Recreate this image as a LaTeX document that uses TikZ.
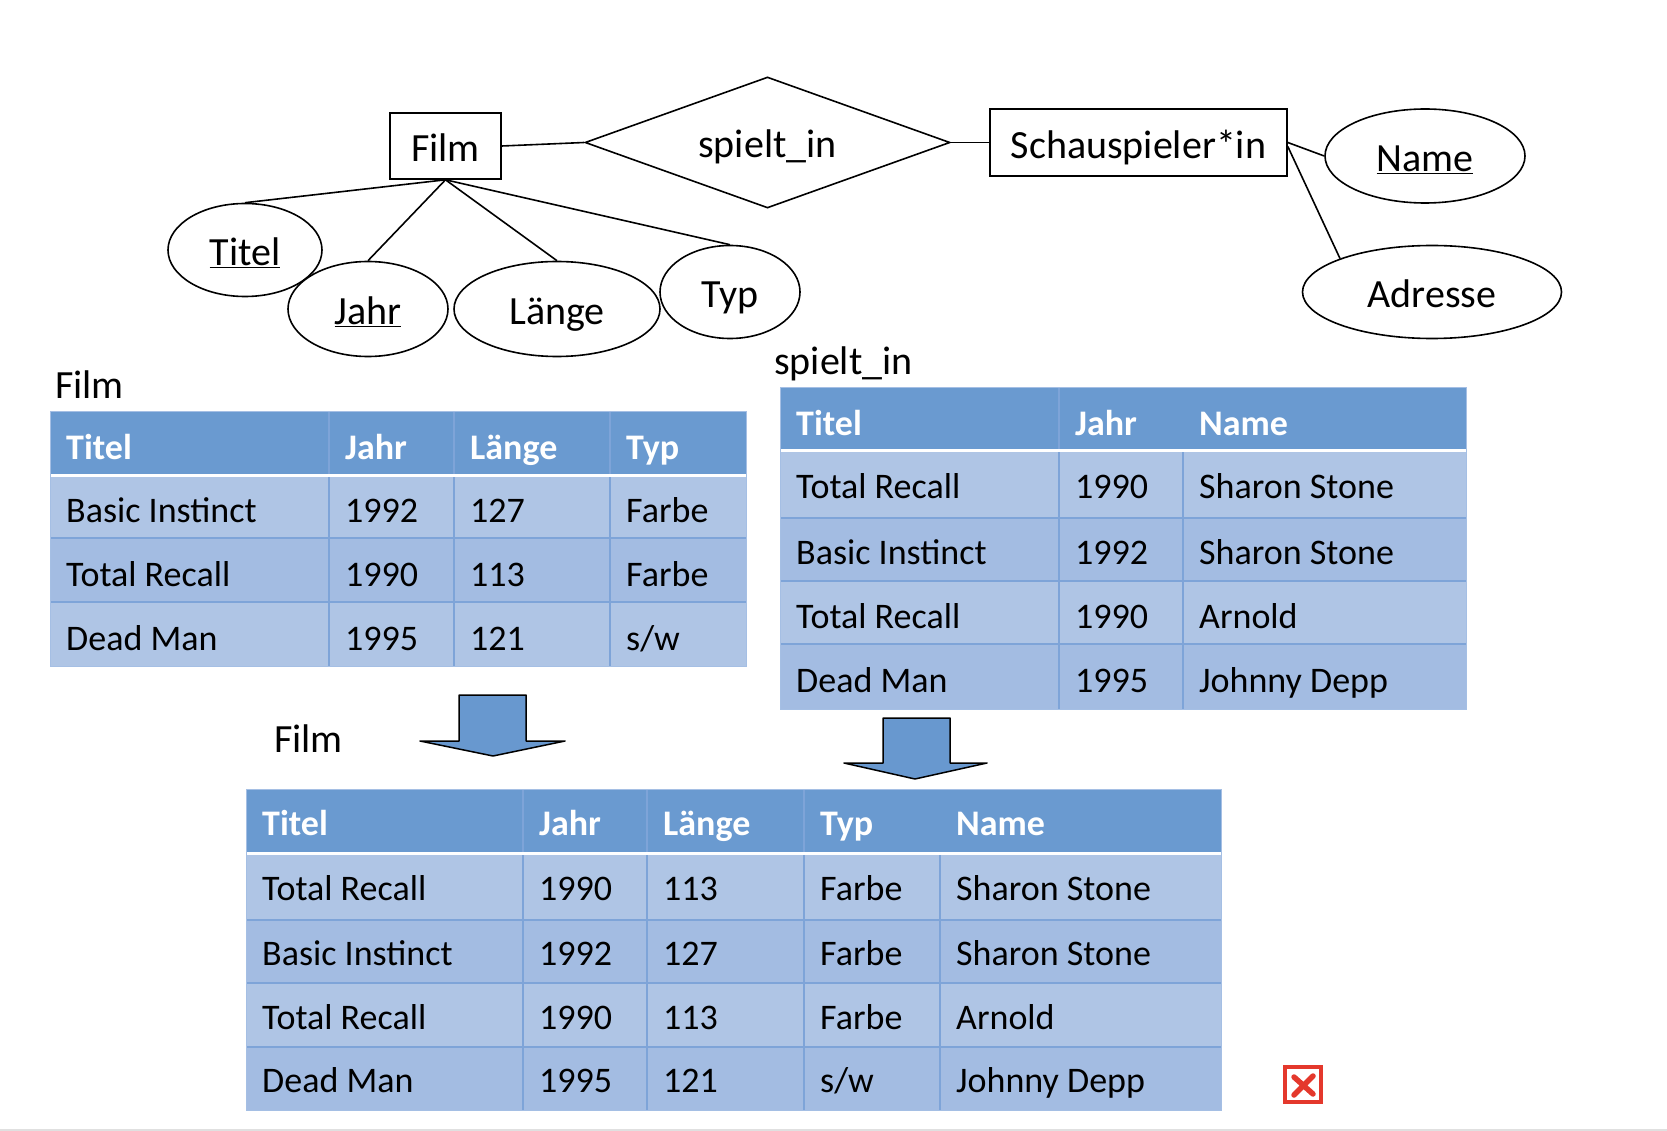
\documentclass[tikz,border=0pt]{standalone}
\usepackage{fontspec}
\setmainfont{Carlito}
\usetikzlibrary{shapes.geometric}

\definecolor{headblue}{RGB}{106,154,208}
\definecolor{rowlight}{RGB}{175,197,229}
\definecolor{rowdark}{RGB}{163,188,226}
\definecolor{lineblue}{RGB}{126,164,216}
\definecolor{arrowblue}{RGB}{104,152,207}
\definecolor{xred}{RGB}{228,56,44}

\newcommand{\erfont}{\fontsize{40}{48}\selectfont}
\newcommand{\cellfont}{\fontsize{36}{43}\selectfont}
\newcommand{\headfont}{\fontsize{36}{43}\selectfont\bfseries}

\begin{document}
\begin{tikzpicture}[x=1pt, y=-1pt,
	entity/.style={shape=rectangle, draw=black, line width=1.6pt, minimum height=66pt, inner sep=0pt, text height=32pt, text depth=0pt, font=\erfont},
	attr/.style={shape=ellipse, draw=black, fill=white, line width=1.6pt, inner sep=0pt, text height=32pt, text depth=0pt, font=\erfont},
	relship/.style={shape=diamond, draw=black, line width=1.6pt, aspect=2.8, inner sep=0pt, text height=31pt, text depth=0pt, font=\erfont},
	erline/.style={-, line width=1.6pt},
	tabname/.style={anchor=base west, inner sep=0pt, font=\erfont},
	cell/.style={anchor=base west, inner sep=0pt, font=\cellfont},
	headcell/.style={anchor=base west, inner sep=0pt, text=white, font=\headfont},
	rowline/.style={draw=lineblue, line width=1.4pt},
	blockarrow/.style={fill=arrowblue, draw=black, line width=1.5pt, line join=round}]
	
	\useasboundingbox (0,0) rectangle (1667,1131);
	
	% ER diagram
	\node[entity, minimum width=111pt] (film) at (445.5,146) {Film};
	\node[relship, minimum width=365pt, minimum height=131pt] (spielt) at (767.5,142.5) {spielt\_in};
	\node[entity, minimum width=297pt, minimum height=67pt] (schau) at (1138.5,142.5) {Schauspieler*in};
	\node[attr, minimum width=154pt, minimum height=93pt] (titel) at (245,250) {\underline{Titel}};
	\node[attr, minimum width=160pt, minimum height=95pt] (jahr) at (368,309) {\underline{Jahr}};
	\node[attr, minimum width=206pt, minimum height=95pt] (laenge) at (557,309) {Länge};
	\node[attr, minimum width=140pt, minimum height=93pt] (typ) at (730,292) {Typ};
	\node[attr, minimum width=200pt, minimum height=94pt] (name) at (1425,156) {\underline{Name}};
	\node[attr, minimum width=259pt, minimum height=93pt] (adresse) at (1432,292) {Adresse};
	
	\path[erline] (film.east) edge (spielt.west);
	\path[erline] (spielt.east) edge (schau.west);
	\path[erline] (film.south) edge (titel.north);
	\path[erline] (film.south) edge (jahr.north);
	\path[erline] (film.south) edge (laenge.north);
	\path[erline] (film.south) edge (typ.north);
	\path[erline] (schau.east) edge (name.west);
	\path[erline] ([yshift=-4pt]schau.east) edge (adresse.160);
	
	% Tabelle Film
	\node[tabname] (filmname) at (55,398) {Film};
	\fill[headblue] (50,411) rectangle (746,475);
	\fill[rowlight] (50,475) rectangle (746,538);
	\fill[rowdark] (50,538) rectangle (746,602);
	\fill[rowlight] (50,602) rectangle (746,666);
	\draw[rowline] (50,538) -- (746,538) (50,602) -- (746,602);
	\draw[rowline] (329,411) -- (329,666) (454,411) -- (454,666) (610,411) -- (610,666);
	\draw[white, line width=3pt] (50,475) -- (746,475);
	\draw[draw=lineblue!70, line width=1pt] (50,411) rectangle (746,666);
	
	\node[headcell] (fh1) at (66,459) {Titel};
	\node[headcell] (fh2) at (345,459) {Jahr};
	\node[headcell] (fh3) at (470,459) {Länge};
	\node[headcell] (fh4) at (626,459) {Typ};
	\node[cell] (f11) at (66,522) {Basic Instinct};
	\node[cell] (f12) at (345,522) {1992};
	\node[cell] (f13) at (470,522) {127};
	\node[cell] (f14) at (626,522) {Farbe};
	\node[cell] (f21) at (66,586) {Total Recall};
	\node[cell] (f22) at (345,586) {1990};
	\node[cell] (f23) at (470,586) {113};
	\node[cell] (f24) at (626,586) {Farbe};
	\node[cell] (f31) at (66,650) {Dead Man};
	\node[cell] (f32) at (345,650) {1995};
	\node[cell] (f33) at (470,650) {121};
	\node[cell] (f34) at (626,650) {s/w};
	
	% Tabelle spielt_in
	\node[tabname] (spieltname) at (774,374) {spielt\_in};
	\fill[headblue] (780,387) rectangle (1466,450);
	\fill[rowlight] (780,450) rectangle (1466,518);
	\fill[rowdark] (780,518) rectangle (1466,581);
	\fill[rowlight] (780,581) rectangle (1466,644);
	\fill[rowdark] (780,644) rectangle (1466,709);
	\draw[rowline] (780,518) -- (1466,518) (780,581) -- (1466,581) (780,644) -- (1466,644);
	\draw[rowline] (1059,387) -- (1059,709) (1183,450) -- (1183,709);
	\draw[white, line width=3pt] (780,450) -- (1466,450);
	\draw[draw=lineblue!70, line width=1pt] (780,387) rectangle (1466,709);
	
	\node[headcell] (sh1) at (796,435) {Titel};
	\node[headcell] (sh2) at (1075,435) {Jahr};
	\node[headcell] (sh3) at (1199,435) {Name};
	\node[cell] (s11) at (796,498) {Total Recall};
	\node[cell] (s12) at (1075,498) {1990};
	\node[cell] (s13) at (1199,498) {Sharon Stone};
	\node[cell] (s21) at (796,564) {Basic Instinct};
	\node[cell] (s22) at (1075,564) {1992};
	\node[cell] (s23) at (1199,564) {Sharon Stone};
	\node[cell] (s31) at (796,628) {Total Recall};
	\node[cell] (s32) at (1075,628) {1990};
	\node[cell] (s33) at (1199,628) {Arnold};
	\node[cell] (s41) at (796,692) {Dead Man};
	\node[cell] (s42) at (1075,692) {1995};
	\node[cell] (s43) at (1199,692) {Johnny Depp};
	
	% Pfeile
	\draw[blockarrow] (459,695) -- (526,695) -- (526,741) -- (565,741) -- (493,756) -- (420,741) -- (459,741) -- cycle;
	\draw[blockarrow] (883,718) -- (950,718) -- (950,763) -- (987,763) -- (915,779) -- (844,763) -- (883,763) -- cycle;
	\node[tabname] (joinname) at (274,752) {Film};
	
	% Tabelle Film (verbunden)
	\fill[headblue] (246,789) rectangle (1221,853);
	\fill[rowlight] (246,853) rectangle (1221,920);
	\fill[rowdark] (246,920) rectangle (1221,983);
	\fill[rowlight] (246,983) rectangle (1221,1047);
	\fill[rowdark] (246,1047) rectangle (1221,1110);
	\draw[rowline] (246,920) -- (1221,920) (246,983) -- (1221,983) (246,1047) -- (1221,1047);
	\draw[rowline] (523,789) -- (523,1110) (647,789) -- (647,1110) (804,789) -- (804,1110) (940,853) -- (940,1110);
	\draw[white, line width=3pt] (246,853) -- (1221,853);
	\draw[draw=lineblue!70, line width=1pt] (246,789) rectangle (1221,1110);
	
	\node[headcell] (bh1) at (262,835) {Titel};
	\node[headcell] (bh2) at (539,835) {Jahr};
	\node[headcell] (bh3) at (663,835) {Länge};
	\node[headcell] (bh4) at (820,835) {Typ};
	\node[headcell] (bh5) at (956,835) {Name};
	\node[cell] (b11) at (262,900) {Total Recall};
	\node[cell] (b12) at (539,900) {1990};
	\node[cell] (b13) at (663,900) {113};
	\node[cell] (b14) at (820,900) {Farbe};
	\node[cell] (b15) at (956,900) {Sharon Stone};
	\node[cell] (b21) at (262,965) {Basic Instinct};
	\node[cell] (b22) at (539,965) {1992};
	\node[cell] (b23) at (663,965) {127};
	\node[cell] (b24) at (820,965) {Farbe};
	\node[cell] (b25) at (956,965) {Sharon Stone};
	\node[cell] (b31) at (262,1029) {Total Recall};
	\node[cell] (b32) at (539,1029) {1990};
	\node[cell] (b33) at (663,1029) {113};
	\node[cell] (b34) at (820,1029) {Farbe};
	\node[cell] (b35) at (956,1029) {Arnold};
	\node[cell] (b41) at (262,1092) {Dead Man};
	\node[cell] (b42) at (539,1092) {1995};
	\node[cell] (b43) at (663,1092) {121};
	\node[cell] (b44) at (820,1092) {s/w};
	\node[cell] (b45) at (956,1092) {Johnny Depp};
	
	% rotes Kreuz
	\draw[xred, line width=4pt] (1285,1067) rectangle (1321,1102);
	\draw[xred, line width=5.5pt, line cap=round] (1294,1077) -- (1313,1094) (1313,1076) -- (1294,1095);
	
	\draw[black!12, line width=2pt] (0,1130) -- (1667,1130);
	
\end{tikzpicture}
\end{document}
